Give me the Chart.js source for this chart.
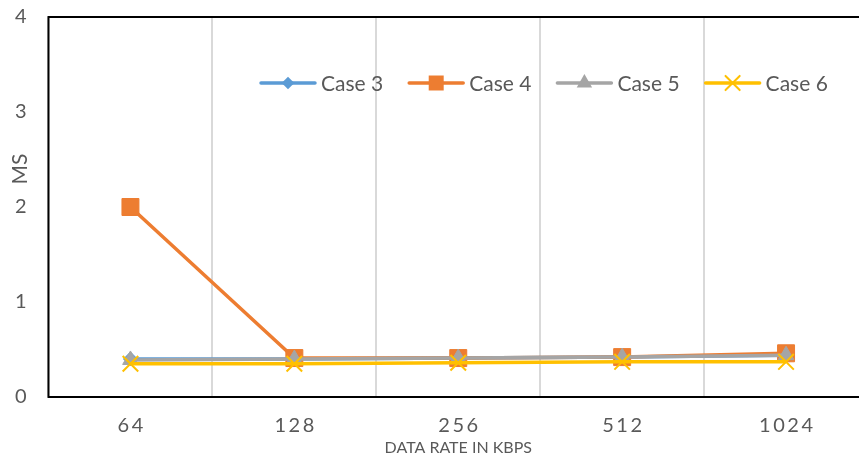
<!DOCTYPE html>
<html>
<head>
<meta charset="utf-8">
<script src="https://cdn.jsdelivr.net/npm/chart.js@4.4.0/dist/chart.umd.min.js"></script>
<style>
  html, body { margin: 0; padding: 0; background: #ffffff; overflow: hidden; }
  #wrap { width: 868px; height: 459px; }
</style>
</head>
<body>
<div id="wrap"><canvas id="c" width="868" height="459"></canvas></div>
<script>
// ---- data ----
const categories = ['64', '128', '256', '512', '1024'];
const case3 = [0.40, 0.40, 0.41, 0.42, 0.44];
const case4 = [2.00, 0.41, 0.41, 0.42, 0.46];
const case5 = [0.39, 0.40, 0.41, 0.42, 0.44];
const case6 = [0.35, 0.35, 0.36, 0.37, 0.37];
const seriesNames = ['Case 3', 'Case 4', 'Case 5', 'Case 6'];
const yTitle = 'MS';
const xTitle = 'DATA RATE IN KBPS';

const colors = ['#5B9BD5', '#ED7D31', '#A5A5A5', '#FFC000'];
const styles = ['rectRot', 'rect', 'triangle', 'crossRot'];
const plotRadius = [7, 12, 9, 11];
const legendRadius = [6.3, 10.6, 8.9, 10];
const textColor = '#595959';
const FONT = 'Lato, "Open Sans", sans-serif';

Chart.defaults.font.family = FONT;
Chart.defaults.color = textColor;

function mk(i, data, order) {
  return {
    label: seriesNames[i],
    data: data,
    borderColor: colors[i],
    backgroundColor: colors[i],
    borderWidth: 3.5,
    pointStyle: styles[i],
    pointRadius: plotRadius[i],
    pointHoverRadius: plotRadius[i],
    pointBorderWidth: styles[i] === 'crossRot' ? 2 : 1,
    pointBorderColor: colors[i],
    pointBackgroundColor: colors[i],
    tension: 0,
    order: order,
    fill: false
  };
}

function marker(ctx, style, r, x, y, color) {
  ctx.save();
  ctx.fillStyle = color; ctx.strokeStyle = color;
  ctx.beginPath();
  if (style === 'rectRot') {
    ctx.moveTo(x - r, y); ctx.lineTo(x, y - r); ctx.lineTo(x + r, y); ctx.lineTo(x, y + r); ctx.closePath(); ctx.fill();
  } else if (style === 'rect') {
    const s = r * Math.SQRT1_2;
    ctx.rect(x - s, y - s, 2 * s, 2 * s); ctx.fill();
  } else if (style === 'triangle') {
    ctx.moveTo(x, y - r); ctx.lineTo(x + 0.866 * r, y + 0.5 * r); ctx.lineTo(x - 0.866 * r, y + 0.5 * r); ctx.closePath(); ctx.fill();
  } else if (style === 'crossRot') {
    const s = r * Math.SQRT1_2;
    ctx.lineWidth = 2;
    ctx.moveTo(x - s, y - s); ctx.lineTo(x + s, y + s);
    ctx.moveTo(x - s, y + s); ctx.lineTo(x + s, y - s); ctx.stroke();
  }
  ctx.restore();
}

const decor = {
  id: 'decor',
  beforeDatasetsDraw(chart) {
    const { ctx, chartArea: a } = chart;
    ctx.save();
    ctx.strokeStyle = '#000000';
    ctx.lineWidth = 2;
    ctx.strokeRect(a.left, a.top, a.right - a.left, a.bottom - a.top);
    ctx.restore();
  },
  afterDraw(chart) {
    const ctx = chart.ctx;
    // legend
    ctx.save();
    ctx.font = '21px ' + FONT;
    ctx.textBaseline = 'middle';
    ctx.textAlign = 'left';
    let x = 261;
    const y = 83;
    for (let i = 0; i < seriesNames.length; i++) {
      ctx.strokeStyle = colors[i];
      ctx.lineWidth = 3.5;
      ctx.lineCap = 'round';
      ctx.beginPath(); ctx.moveTo(x, y); ctx.lineTo(x + 54, y); ctx.stroke();
      marker(ctx, styles[i], legendRadius[i], x + 27, y, colors[i]);
      ctx.fillStyle = textColor;
      ctx.fillText(seriesNames[i], x + 60, y + 1);
      x += 60 + ctx.measureText(seriesNames[i]).width + 26;
    }
    // y title
    ctx.translate(19.5, 169);
    ctx.rotate(-Math.PI / 2);
    ctx.font = '21px ' + FONT;
    ctx.textAlign = 'center';
    ctx.fillStyle = textColor;
    ctx.fillText(yTitle, 0, 1);
    ctx.restore();
  }
};

function zeroPad(scale) {
  scale.paddingLeft = 0; scale.paddingRight = 0;
  scale.paddingTop = 0; scale.paddingBottom = 0;
}

new Chart(document.getElementById('c'), {
  type: 'line',
  data: {
    labels: categories,
    datasets: [mk(0, case3, 3), mk(1, case4, 2), mk(2, case5, 1), mk(3, case6, 0)]
  },
  options: {
    responsive: false,
    devicePixelRatio: 1,
    animation: false,
    layout: { autoPadding: false, padding: { left: 15, right: 0, top: 17, bottom: 0 } },
    plugins: { legend: { display: false }, tooltip: { enabled: false } },
    scales: {
      x: {
        offset: true,
        grid: { display: true, offset: true, color: '#d9d9d9', lineWidth: 2, drawTicks: false },
        border: { display: false },
        ticks: {
          padding: 16.5,
          color: textColor,
          font: { size: 20 },
          maxRotation: 0,
          autoSkip: false,
          callback: function (v) { return categories[v].split('').join('\u2009'); }
        },
        title: { display: true, text: xTitle, color: textColor, font: { size: 16 }, padding: { top: 0, bottom: 1.5 } },
        afterFit: function (scale) { zeroPad(scale); scale.height = 62; }
      },
      y: {
        min: 0, max: 4,
        grid: { display: false, drawTicks: false },
        border: { display: false },
        ticks: { stepSize: 1, padding: 0, crossAlign: 'far', color: textColor, font: { size: 20 } },
        afterFit: function (scale) { zeroPad(scale); scale.width = 33.5; }
      }
    }
  },
  plugins: [decor]
});
</script>
</body>
</html>
